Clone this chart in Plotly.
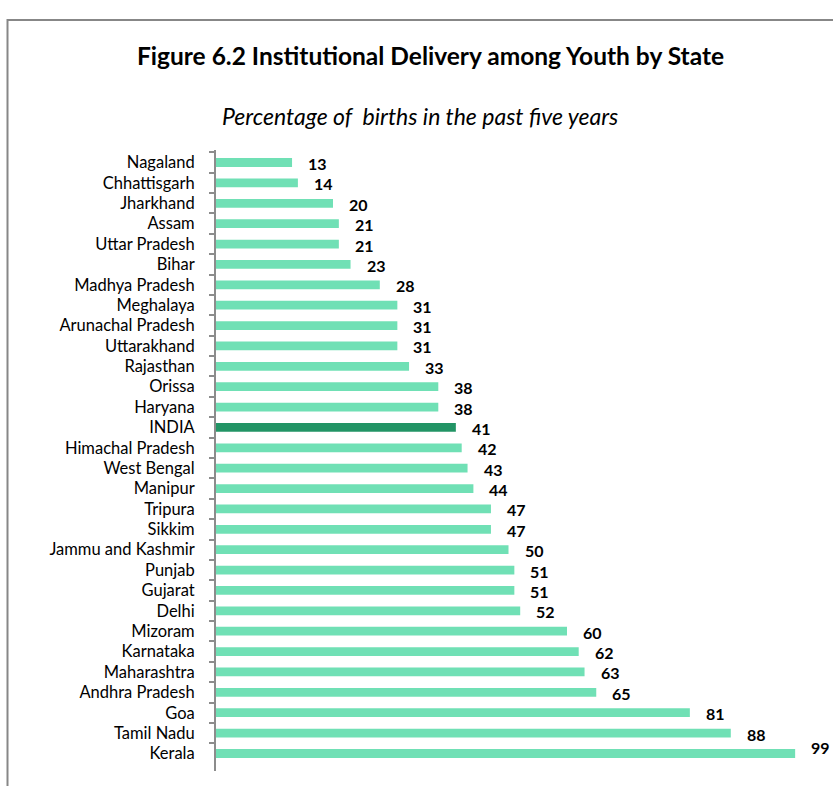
import plotly.graph_objects as go

states = ["Nagaland", "Chhattisgarh", "Jharkhand", "Assam", "Uttar Pradesh", "Bihar",
          "Madhya Pradesh", "Meghalaya", "Arunachal Pradesh", "Uttarakhand", "Rajasthan",
          "Orissa", "Haryana", "INDIA", "Himachal Pradesh", "West Bengal", "Manipur",
          "Tripura", "Sikkim", "Jammu and Kashmir", "Punjab", "Gujarat", "Delhi",
          "Mizoram", "Karnataka", "Maharashtra", "Andhra Pradesh", "Goa", "Tamil Nadu",
          "Kerala"]
values = [13, 14, 20, 21, 21, 23, 28, 31, 31, 31, 33, 38, 38, 41, 42, 43, 44, 47, 47,
          50, 51, 51, 52, 60, 62, 63, 65, 81, 88, 99]

TITLE = "Figure 6.2 Institutional Delivery among Youth by State"
SUBTITLE = "Percentage of  births in the past five years"

LIGHT = "#70E0B5"
DARK = "#229465"
colors = [DARK if s == "INDIA" else LIGHT for s in states]

FONT = "Lato"

W, H = 833, 786
L, R, T, B = 216, 32, 149.5, 15
pw, ph = W - L - R, H - T - B


def px_to_paper_x(px):
    return (px - L) / pw


def px_to_paper_y(py):
    return (H - B - py) / ph


fig = go.Figure()
fig.add_trace(go.Bar(
    y=states, x=values, orientation="h",
    marker=dict(color=colors, line=dict(width=0)),
    hoverinfo="x+y",
))

annotations = []
for s, v in zip(states, values):
    annotations.append(dict(
        x=v, y=s, xref="x", yref="y", text=f"<b>{v}</b>", showarrow=False,
        xanchor="left", yanchor="middle", xshift=14,
        yshift=6 if s == "Kerala" else -1,
        font=dict(family=FONT, size=16, color="#000000"),
    ))

annotations.append(dict(
    x=px_to_paper_x(430), y=px_to_paper_y(55), xref="paper", yref="paper",
    xanchor="center", yanchor="middle",
    text=f"<b>{TITLE}</b>", showarrow=False,
    font=dict(family=FONT, size=24.5, color="#000000"),
))
annotations.append(dict(
    x=px_to_paper_x(420), y=px_to_paper_y(115), xref="paper", yref="paper",
    xanchor="center", yanchor="middle",
    text=f"<i>{SUBTITLE}</i>", showarrow=False,
    font=dict(family=FONT, size=23, color="#000000"),
))

fig.update_layout(
    width=W, height=H,
    margin=dict(l=L, r=R, t=T, b=B, pad=0),
    paper_bgcolor="white", plot_bgcolor="white",
    bargap=0.57,
    showlegend=False,
    annotations=annotations,
    shapes=[dict(
        type="rect", xref="paper", yref="paper",
        x0=px_to_paper_x(7.5), x1=px_to_paper_x(900),
        y0=px_to_paper_y(900), y1=px_to_paper_y(19.5),
        line=dict(color="#878787", width=2), fillcolor="rgba(0,0,0,0)", layer="below",
    )],
    xaxis=dict(range=[0, 100], visible=False, fixedrange=True),
    yaxis=dict(
        autorange="reversed", type="category", fixedrange=True,
        showline=True, linecolor="#8C8C8C", linewidth=2,
        ticks="outside", tickson="boundaries", ticklen=5, tickwidth=1.5, tickcolor="#8C8C8C",
        tickfont=dict(family=FONT, size=16.5, color="#000000"),
        showgrid=False, zeroline=False, ticklabelstandoff=16,
    ),
)

fig.write_html(
    "out.html",
    config={"displayModeBar": False},
    post_script="document.body.style.margin='0';document.body.style.overflow='hidden';",
)
